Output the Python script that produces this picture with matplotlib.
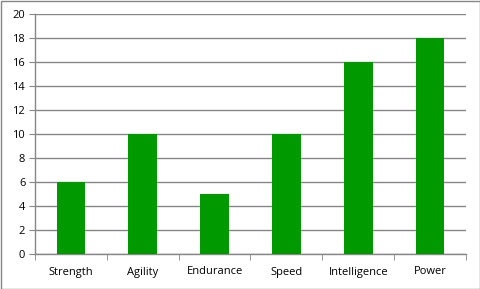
import matplotlib
matplotlib.use("Agg")
import matplotlib.pyplot as plt
from matplotlib.patches import Rectangle

categories = ["Strength", "Agility", "Endurance", "Speed", "Intelligence", "Power"]
values = [6, 10, 5, 10, 16, 18]
yticks = [0, 2, 4, 6, 8, 10, 12, 14, 16, 18, 20]

plt.rcParams['font.family'] = ['Open Sans', 'DejaVu Sans']

fig = plt.figure(figsize=(4.81, 2.89), dpi=100)
ax = fig.add_axes([35/481, 35/289, 431/481, 240/289])

x = list(range(len(categories)))
ax.bar(x, values, width=0.4, color="#009900", zorder=3)
ax.set_xlim(-0.5, len(categories) - 0.5)
ax.set_ylim(0, 20)
ax.set_yticks(yticks)
ax.set_yticklabels([str(t) for t in yticks], fontsize=8)
ax.yaxis.grid(True, color="#868686", linewidth=1, zorder=0)
ax.set_xticks(x)
ax.set_xticklabels(categories, fontsize=8)
ax.tick_params(axis='x', length=0, pad=9)
ax.tick_params(axis='y', length=4, color="#868686", pad=3)
# category boundary ticks
ax.set_xticks([i - 0.5 for i in range(len(categories) + 1)], minor=True)
ax.tick_params(axis='x', which='minor', length=4, color="#868686")
for s in ['top', 'right']:
    ax.spines[s].set_visible(False)
for s in ['left', 'bottom']:
    ax.spines[s].set_color("#868686")
    ax.spines[s].set_linewidth(1)

fig.patches.append(Rectangle((0.5/481, 0.5/289), 480/481, 288/289, transform=fig.transFigure,
                             fill=False, edgecolor="#868686", linewidth=1))
fig.savefig("out.png", dpi=100)
